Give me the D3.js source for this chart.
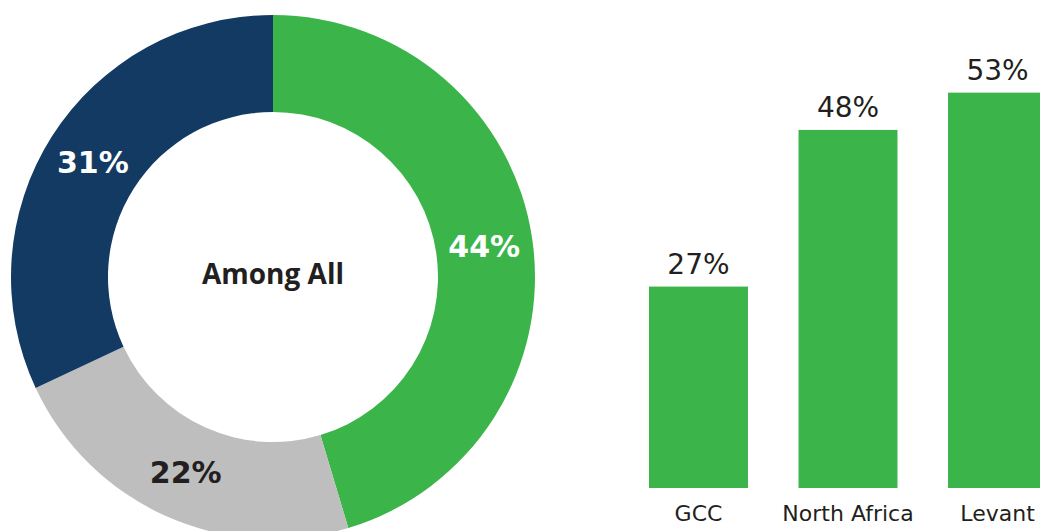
<!DOCTYPE html>
<html>
<head>
<meta charset="utf-8">
<script src="https://cdn.jsdelivr.net/npm/d3@7"></script>
<style>
  body { margin: 0; background: #fff; }
  text { font-family: "DejaVu Sans", sans-serif; }
</style>
</head>
<body>
<div id="chart"></div>
<script>
// Donut data (share among all)
const donutLabels = ["Yes", "Neutral", "No"];
const donutValues = [44, 22, 31];
const donutColors = ["#3bb54a", "#bebebe", "#133a63"];
const donutTextColors = ["#fff", "#231f20", "#fff"];

// Bar data by region
const regions = ["GCC", "North Africa", "Levant"];
const regionValues = [27, 48, 53];

const width = 1040, height = 531;

const svg = d3.select("#chart")
  .append("svg")
  .attr("width", width)
  .attr("height", height);

// ---- donut ----
const cx = 273, cy = 277, outerR = 262, innerR = 165;

const pie = d3.pie().sort(null).value(d => d);
const arcs = pie(donutValues);

const arc = d3.arc().innerRadius(innerR).outerRadius(outerR);

const donut = svg.append("g")
  .attr("transform", `translate(${cx},${cy})`);

donut.selectAll("path")
  .data(arcs)
  .join("path")
  .attr("d", arc)
  .attr("fill", (d, i) => donutColors[i]);

// percentage labels at the middle of each ring segment
donut.selectAll("text.pct")
  .data(arcs)
  .join("text")
  .attr("class", "pct")
  .attr("transform", d => `translate(${arc.centroid(d)})`)
  .attr("text-anchor", "middle")
  .attr("dy", "0.36em")
  .attr("font-size", 30)
  .attr("font-weight", 700)
  .attr("fill", (d, i) => donutTextColors[i])
  .text(d => d.data + "%");

donut.append("text")
  .attr("text-anchor", "middle")
  .attr("y", 7)
  .style("font-family", "'Open Sans', sans-serif")
  .attr("font-size", 28)
  .attr("font-weight", 700)
  .attr("fill", "#231f20")
  .text("Among All");

// ---- bars ----
const x = d3.scaleBand()
  .domain(regions)
  .range([649, 1047])
  .paddingInner(0.338)
  .paddingOuter(0);

const y = d3.scaleLinear()
  .domain([0, 60])
  .range([488, 40.4]);

const bars = svg.append("g");

bars.selectAll("rect")
  .data(regions)
  .join("rect")
  .attr("x", d => x(d))
  .attr("y", (d, i) => y(regionValues[i]))
  .attr("width", x.bandwidth())
  .attr("height", (d, i) => y(0) - y(regionValues[i]))
  .attr("fill", "#3bb54a");

bars.selectAll("text.val")
  .data(regions)
  .join("text")
  .attr("class", "val")
  .attr("x", d => x(d) + x.bandwidth() / 2)
  .attr("y", (d, i) => y(regionValues[i]) - 12.5)
  .attr("text-anchor", "middle")
  .attr("font-size", 28)
  .attr("fill", "#231f20")
  .text((d, i) => regionValues[i] + "%");

// category axis (no line, no ticks)
const xAxis = svg.append("g")
  .attr("transform", `translate(0,${y(0)})`)
  .call(d3.axisBottom(x).tickSize(0));

xAxis.select(".domain").remove();
xAxis.selectAll("text")
  .attr("y", 33)
  .attr("dy", 0)
  .style("font-family", "'DejaVu Sans', sans-serif")
  .attr("font-size", 22)
  .attr("fill", "#231f20");
</script>
</body>
</html>
